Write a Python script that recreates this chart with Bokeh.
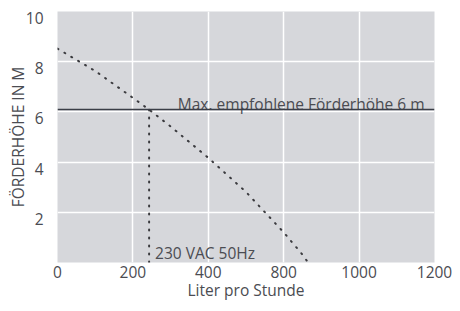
from bokeh.plotting import figure
from bokeh.models import Range1d, FixedTicker, Span, LinearAxis, Grid
from bokeh.core.properties import value
from bokeh.embed import file_html
from bokeh.resources import INLINE

# --- data (x in evenly spaced chart positions; labels as printed) ---
x_tick_pos = [0, 200, 400, 600, 800, 1000]
x_tick_labels = ["0", "200", "400", "800", "1000", "1200"]
y_ticks = [0, 2, 4, 6, 8, 10]
y_label_ticks = [2, 4, 6, 8, 10]

flow = [0, 100, 200, 243, 300, 400, 500, 600, 650, 677]
head = [8.52, 7.63, 6.56, 6.09, 5.42, 4.17, 2.81, 1.20, 0.31, -0.26]

cut_flow = [243, 243]
cut_head = [0, 6.09]

max_head = 6.1
max_label = "Max. empfohlene Förderhöhe 6 m"
volt_label = "230 VAC 50Hz"

FONT = "Open Sans"
TXT = "#4b4c52"
FS = "15.5px"
LABEL_SHIFT = 0.26  # tick labels sit slightly below their grid lines

p = figure(width=452, height=303, output_backend="svg", toolbar_location=None,
           x_range=Range1d(0, 1000), y_range=Range1d(0, 10),
           y_axis_location=None,
           min_border_left=57, min_border_right=18, min_border_top=11, min_border_bottom=36)
p.extra_y_ranges = {"ylab": Range1d(0 + LABEL_SHIFT, 10 + LABEL_SHIFT)}
yax = LinearAxis(y_range_name="ylab", ticker=FixedTicker(ticks=y_label_ticks))
p.add_layout(yax, "left")

p.background_fill_color = "#d6d7db"
p.border_fill_color = "white"
p.outline_line_color = None

p.xaxis.ticker = FixedTicker(ticks=x_tick_pos)
p.xaxis.major_label_overrides = {t: l for t, l in zip(x_tick_pos, x_tick_labels)}

for ax in (p.xaxis[0], yax):
    ax.axis_line_color = None
    ax.major_tick_line_color = None
    ax.minor_tick_line_color = None
    ax.major_label_text_font = FONT
    ax.major_label_text_font_size = FS
    ax.major_label_text_color = TXT
    ax.axis_label_text_font = FONT
    ax.axis_label_text_font_size = FS
    ax.axis_label_text_font_style = "normal"
    ax.axis_label_text_color = TXT

p.xaxis.axis_label = "Liter pro Stunde"
p.xaxis.major_label_standoff = -3
p.xaxis.axis_label_standoff = -2
yax.axis_label = "FÖRDERHÖHE IN M"
yax.major_label_standoff = 8
yax.axis_label_standoff = -6

p.xgrid.grid_line_color = "white"
p.xgrid.grid_line_width = 1.5
p.xgrid.ticker = FixedTicker(ticks=x_tick_pos)
p.add_layout(Grid(dimension=1, ticker=FixedTicker(ticks=y_ticks),
                  grid_line_color="white", grid_line_width=1.5))

p.add_layout(Span(location=max_head, dimension="width", line_color="#3a3d46", line_width=1.5))

p.line(flow, head, line_color="#3a3a3e", line_width=2, line_dash="1 7", line_cap="round")
p.line(cut_flow, cut_head, line_color="#3a3a3e", line_width=2, line_dash="1 7", line_cap="round")

p.text(x=[x_tick_pos[-1]], y=[max_head], text=[max_label], text_font=value(FONT),
       text_font_size=FS, text_color=TXT, text_align="right", text_baseline="alphabetic",
       x_offset=-10, y_offset=-5)
p.text(x=[cut_flow[0]], y=[0], text=[volt_label], text_font=value(FONT),
       text_font_size=FS, text_color=TXT, text_align="left", text_baseline="alphabetic",
       x_offset=6, y_offset=-10)

open("out.html", "w").write(file_html(p, INLINE))
